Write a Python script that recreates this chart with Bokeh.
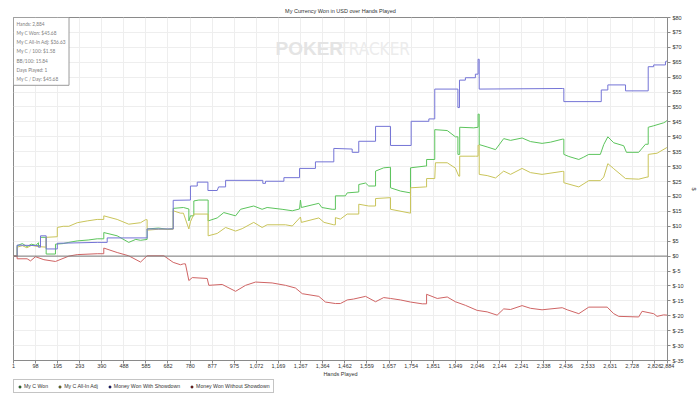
from bokeh.plotting import figure
from bokeh.models import (Range1d, FixedTicker, PrintfTickFormatter, Span, Label,
                          Legend, LegendItem, Title)
from bokeh.layouts import column
from bokeh.embed import file_html
from bokeh.resources import INLINE

# ---------------- data ----------------
title_text = "My Currency Won in USD over Hands Played"
stats_lines = ["Hands: 2,884", "My C Won: $45.68", "My C All-In Adj: $36.63",
               "My C / 100: $1.58", "BB/100: 15.84", "Days Played: 1", "My C / Day: $45.68"]

x_ticks = [1, 98, 195, 293, 390, 488, 585, 682, 780, 877, 975, 1072, 1169, 1267, 1364,
           1462, 1559, 1657, 1754, 1851, 1949, 2046, 2144, 2241, 2338, 2436, 2533, 2631,
           2728, 2826, 2884]
y_ticks = list(range(-35, 85, 5))

won_hands = [1, 17, 17, 40, 60, 80, 100, 111, 111, 120, 120, 145, 145, 186, 186, 220, 245, 282,
             330, 370, 399, 399, 458, 509, 540, 561, 590, 590, 640, 680, 705, 705, 750, 774, 774,
             781, 796, 796, 818, 859, 859, 899, 928, 980, 1002, 1060, 1097, 1119, 1185, 1230,
             1262, 1266, 1270, 1347, 1360, 1406, 1420, 1420, 1464, 1472, 1523, 1523, 1553, 1567,
             1597, 1597, 1633, 1663, 1663, 1707, 1751, 1751, 1817, 1822, 1822, 1858, 1858, 1913,
             1949, 1960, 1960, 1968, 1968, 2030, 2049, 2049, 2054, 2054, 2089, 2126, 2162, 2192,
             2243, 2280, 2331, 2368, 2420, 2427, 2427, 2449, 2493, 2515, 2537, 2588, 2603, 2621,
             2647, 2691, 2703, 2757, 2787, 2799, 2799, 2823, 2867, 2879, 2884]
won_usd = [0, 0, 3.5, 4.2, 3.2, 4.0, 3.6, 4.5, 3.5, 3.5, 6.3, 6.3, 0.7, 0.7, 4.0, 4.2, 4.6, 5.1,
           5.4, 5.8, 5.8, 7.9, 6.8, 4.6, 5.6, 5.3, 5.6, 9.1, 9.4, 9.0, 9.2, 16.0, 16.3, 15.8, 11.8,
           13.5, 13.5, 18.5, 18.8, 18.8, 11.8, 12.8, 14.6, 13.5, 15.7, 16.8, 15.7, 16.3, 15.7, 15.2,
           15.8, 18.8, 16.3, 17.7, 16.3, 15.7, 15.7, 20.2, 20.2, 21.2, 21.5, 24.0, 24.5, 23.5,
           23.5, 28.5, 29.6, 29.8, 22.9, 21.8, 21.2, 29.6, 30.2, 30.2, 32.4, 32.4, 42.4, 42.1,
           40.0, 40.0, 34.1, 34.1, 43.2, 43.0, 43.2, 47.6, 47.6, 37.4, 36.6, 35.7, 39.4, 38.8,
           39.6, 38.4, 37.8, 38.2, 39.2, 39.2, 34.1, 33.4, 32.4, 33.2, 34.1, 34.1, 37.4, 40.0,
           38.0, 37.0, 34.8, 34.8, 37.5, 37.5, 43.2, 43.7, 44.7, 45.2, 45.68]

adj_hands = [1, 17, 17, 40, 60, 80, 111, 145, 145, 194, 194, 220, 245, 282, 326, 370, 399, 399,
             458, 509, 561, 583, 590, 590, 640, 705, 705, 737, 750, 774, 781, 796, 859, 859, 899,
             936, 980, 1009, 1060, 1097, 1119, 1200, 1230, 1266, 1270, 1347, 1370, 1413, 1420,
             1420, 1442, 1472, 1523, 1523, 1567, 1597, 1597, 1663, 1663, 1751, 1751, 1817, 1822,
             1822, 1858, 1861, 1913, 1949, 1964, 1968, 1968, 2037, 2049, 2049, 2054, 2054, 2089,
             2126, 2162, 2192, 2243, 2280, 2331, 2420, 2427, 2427, 2493, 2537, 2588, 2603, 2621,
             2647, 2699, 2757, 2794, 2799, 2799, 2838, 2879, 2884]
adj_usd = [0, 0, 3.0, 3.5, 2.8, 3.6, 3.2, 3.0, 6.3, 6.5, 9.6, 10.0, 10.0, 11.2, 11.8, 12.3, 12.3,
           13.5, 12.3, 10.7, 11.2, 12.2, 12.2, 8.7, 9.0, 9.0, 15.2, 14.4, 14.4, 9.1, 11.5, 14.1,
           14.1, 6.8, 7.6, 9.6, 8.4, 9.2, 11.3, 9.6, 10.5, 10.5, 10.1, 13.1, 11.3, 12.8, 11.3,
           10.5, 10.5, 12.9, 12.4, 14.1, 14.1, 17.4, 16.8, 16.8, 19.3, 19.6, 15.7, 14.4, 22.9,
           23.2, 23.2, 26.0, 26.0, 31.3, 31.3, 29.5, 26.8, 26.8, 33.5, 33.5, 33.5, 37.2, 37.2,
           27.4, 27.0, 26.2, 28.5, 27.4, 29.4, 28.0, 27.4, 28.4, 28.4, 24.6, 23.2, 25.3, 25.3,
           26.5, 31.0, 29.3, 26.0, 25.8, 26.5, 26.5, 34.1, 34.5, 36.3, 36.63]

sd_hands = [1, 17, 17, 111, 111, 120, 120, 145, 145, 194, 194, 370, 414, 414, 590, 590, 705, 705,
            781, 781, 811, 811, 858, 858, 899, 905, 936, 936, 1100, 1100, 1112, 1112, 1193, 1193,
            1262, 1262, 1332, 1332, 1413, 1413, 1494, 1494, 1523, 1523, 1597, 1597, 1663, 1663,
            1754, 1754, 1832, 1832, 1858, 1858, 1960, 1960, 1967, 1967, 1993, 1993, 2037, 2037,
            2049, 2049, 2054, 2054, 2420, 2427, 2427, 2592, 2592, 2621, 2621, 2699, 2699, 2799,
            2799, 2823, 2823, 2875, 2875, 2884]
sd_usd = [0, 0, 3.7, 3.5, 3.0, 3.0, 6.8, 6.8, 2.4, 2.4, 4.3, 4.6, 4.6, 6.1, 6.1, 9.1, 9.1, 18.7,
          18.8, 23.5, 23.5, 24.8, 24.8, 22.0, 22.0, 23.2, 23.2, 25.4, 25.4, 24.4, 24.4, 25.1, 25.1,
          26.3, 26.3, 29.4, 29.4, 31.6, 31.6, 36.1, 35.9, 34.8, 34.8, 38.5, 38.5, 43.5, 43.5,
          37.1, 37.1, 45.2, 45.2, 46.0, 46.0, 56.0, 56.0, 49.8, 49.8, 59.0, 59.0, 59.8, 59.8,
          61.0, 61.0, 66.0, 66.0, 56.0, 56.2, 56.2, 51.8, 51.8, 55.7, 55.7, 57.4, 57.4, 55.4,
          55.4, 63.5, 63.5, 64.1, 64.1, 65.2, 65.5]

nsd_hands = [1, 17, 17, 61, 76, 98, 135, 186, 245, 282, 370, 399, 399, 458, 509, 561, 590, 664,
             705, 737, 750, 759, 774, 789, 855, 862, 921, 980, 1024, 1068, 1141, 1200, 1244, 1274,
             1347, 1376, 1420, 1442, 1472, 1500, 1553, 1597, 1633, 1663, 1707, 1751, 1803, 1822,
             1822, 1869, 1913, 1949, 1993, 2045, 2089, 2133, 2162, 2192, 2243, 2280, 2331, 2420,
             2442, 2493, 2537, 2618, 2647, 2669, 2757, 2772, 2823, 2838, 2867, 2884]
nsd_usd = [0, 0, -0.9, -0.9, -1.6, -0.2, -1.2, -1.8, 0.0, 0.5, 0.8, 0.8, 2.7, 1.2, 0.1, -2.0, 0.1,
           0.1, -2.1, -2.9, -2.6, -2.6, -8.2, -7.2, -7.5, -9.8, -9.5, -11.8, -9.8, -8.7, -9.0,
           -9.8, -10.7, -12.6, -13.5, -15.4, -15.9, -15.9, -14.7, -14.4, -13.5, -15.3, -13.9,
           -14.2, -14.7, -15.4, -16.0, -16.0, -12.8, -14.2, -13.7, -15.3, -16.5, -18.2, -18.7,
           -19.8, -17.7, -17.9, -16.6, -17.5, -18.0, -17.3, -18.0, -19.3, -17.1, -17.1, -19.3,
           -20.2, -20.4, -18.5, -19.3, -20.2, -19.7, -19.8]

series_names = ["My C Won", "My C All-In Adj", "Money Won With Showdown", "Money Won Without Showdown"]
line_colors = ["#5cc45c", "#c9c45a", "#7474d6", "#cf6464"]
legend_colors = ["#1a9a1a", "#9a9a00", "#0000a0", "#a00000"]

# ---------------- main figure ----------------
FONT = "Liberation Sans"
FH = 343
p = figure(frame_width=654, frame_height=FH, output_backend="svg", toolbar_location=None,
           x_range=Range1d(1, 2884), y_range=Range1d(-35, 80), y_axis_location="right",
           min_border_left=13, min_border_top=17, min_border_right=0, min_border_bottom=0,
           background_fill_color="white", border_fill_color="white")
p.title = Title(text=title_text, align="center", text_font=FONT, text_font_size="5.5px",
                text_font_style="normal", text_color="#333333", standoff=7, offset=0)
p.outline_line_color = "#8a8a8a"

p.xgrid.ticker = FixedTicker(ticks=x_ticks)
p.ygrid.ticker = FixedTicker(ticks=y_ticks)
for g in (p.xgrid, p.ygrid):
    g.grid_line_color = "#eeeeee"
    g.grid_line_width = 1

xa = p.xaxis[0]
xa.ticker = FixedTicker(ticks=x_ticks)
xa.major_label_overrides = {t: f"{t:,}" for t in x_ticks}
xa.axis_label = "Hands Played"
ya = p.yaxis[0]
ya.ticker = FixedTicker(ticks=y_ticks)
ya.formatter = PrintfTickFormatter(format="$%d")
ya.axis_label = "$"
for ax in (xa, ya):
    ax.axis_line_color = "#8a8a8a"
    ax.major_tick_line_color = "#8a8a8a"
    ax.major_tick_out = 3
    ax.major_tick_in = 0
    ax.minor_tick_line_color = None
    ax.major_label_text_font = FONT
    ax.major_label_text_font_size = "5.5px"
    ax.major_label_text_color = "#333333"
    ax.major_label_standoff = 0
    ax.axis_label_text_font = FONT
    ax.axis_label_text_font_size = "5.5px"
    ax.axis_label_text_font_style = "normal"
    ax.axis_label_text_color = "#333333"
    ax.axis_label_standoff = 0
ya.major_label_standoff = 2
ya.axis_label_standoff = 4

p.add_layout(Span(location=0, dimension="width", line_color="#7a7a7a", line_width=1))

# watermark
p.add_layout(Label(x=262, y=312, x_units="screen", y_units="screen", text="POKER",
                   text_font="Liberation Sans", text_font_size="19px", text_font_style="bold",
                   text_color="#e4e4e4", text_baseline="alphabetic"))
p.add_layout(Label(x=326, y=312, x_units="screen", y_units="screen", text="TRACKER",
                   text_font="'DejaVu Sans Condensed', 'Liberation Sans'", text_font_size="17px",
                   text_color="#ececec", text_baseline="alphabetic"))

for xs, ys, c in zip([won_hands, adj_hands, sd_hands, nsd_hands],
                     [won_usd, adj_usd, sd_usd, nsd_usd], line_colors):
    p.line(xs, ys, line_color=c, line_width=1)

# stats box
p.add_layout(Label(x=0, y=FH, x_units="screen", y_units="screen", text="\n".join(stats_lines),
                   text_font="Lato", text_font_size="4.8px", text_color="#808080",
                   text_baseline="top", text_line_height=1.55,
                   background_fill_color="white", border_line_color="#9a9a9a",
                   padding=3))

# ---------------- legend strip ----------------
leg = figure(frame_width=320, frame_height=14, output_backend="svg", toolbar_location=None,
             x_range=Range1d(0, 1), y_range=Range1d(0, 1),
             x_axis_location=None, y_axis_location=None,
             min_border_left=13, min_border_top=0, min_border_right=0, min_border_bottom=0,
             background_fill_color="white", border_fill_color="white")
leg.outline_line_color = None
leg.grid.visible = False
nan = float("nan")
dummies = [leg.scatter(x=[nan], y=[nan], marker="square", size=5, fill_color=c,
                       line_color="#333333", line_width=0.6) for c in legend_colors]
legend = Legend(items=[LegendItem(label=n, renderers=[r]) for n, r in zip(series_names, dummies)],
                location="top_left", orientation="horizontal", border_line_color="#8a8a8a",
                label_text_font=FONT, label_text_font_size="5.2px", label_text_color="#333333",
                glyph_width=5, glyph_height=5, label_standoff=2, spacing=9, padding=3,
                margin=0, label_height=6, label_width=10, background_fill_color="white")
leg.add_layout(legend, "center")

layout = column(p, leg, spacing=0)
open("out.html", "w").write(file_html(layout, INLINE))
